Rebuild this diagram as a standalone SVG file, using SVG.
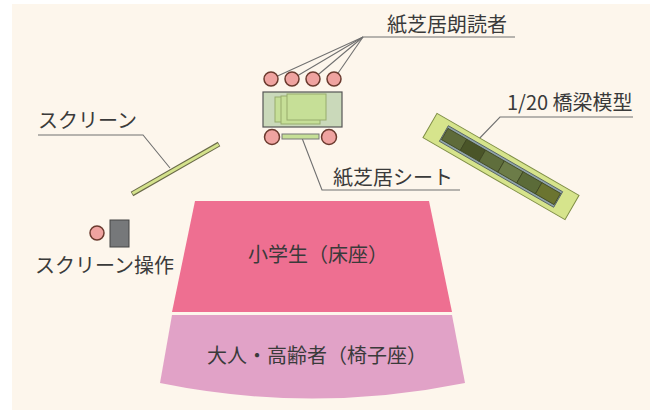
<svg xmlns="http://www.w3.org/2000/svg" width="650" height="410" viewBox="0 0 650 410">
<defs>
<style>
.bg{fill:#FDF6EC}
.lbl{font-family:"Noto Sans CJK JP","Noto Sans",sans-serif;font-size:20px;fill:#3a3a3a}
.lead{fill:none;stroke:#707070;stroke-width:1.1}
.person{fill:#EFA3A0;stroke:#6B3A2E;stroke-width:1.5}
.paper{fill:#C6DF97;stroke:#97AC6C;stroke-width:1}
.tile{stroke:#3E4622;stroke-width:0.8}
</style>
</defs>
<rect x="0" y="0" width="650" height="410" fill="#ffffff"/>
<rect class="bg" x="12" y="4" width="638" height="406"/>

<g id="connectors">
  <polyline class="lead" points="515,37 363,37 271,79"/>
  <line class="lead" x1="363" y1="37" x2="292" y2="79"/>
  <line class="lead" x1="363" y1="37" x2="313" y2="79"/>
  <line class="lead" x1="363" y1="37" x2="334" y2="79"/>
  <polyline class="lead" points="302,138 322,190 460,190"/>
  <polyline class="lead" points="633,117 500,117 475,143"/>
  <polyline class="lead" points="38,135 143,135 170,168"/>
</g>

<g id="seating-floor">
  <polygon points="195,201 429,201 452,312 172,312" fill="#EE6F91"/>
  <text class="lbl" x="248" y="262">小学生（床座）</text>
</g>
<g id="seating-chairs">
  <path d="M172,315 L452,315 L465,383 Q312,414 160,383 Z" fill="#E1A2C7"/>
  <text class="lbl" x="207" y="363">大人・高齢者（椅子座）</text>
</g>

<g id="readers">
  <circle class="person" cx="271" cy="79" r="7"/>
  <circle class="person" cx="292" cy="79" r="7"/>
  <circle class="person" cx="313" cy="79" r="7"/>
  <circle class="person" cx="334" cy="79" r="7"/>
  <text class="lbl" x="387" y="32">紙芝居朗読者</text>
</g>

<g id="table">
  <rect x="263" y="92" width="79" height="35" fill="#CAD9BA" stroke="#555" stroke-width="1.2"/>
  <rect class="paper" x="275" y="97" width="41" height="25"/>
  <rect class="paper" x="281" y="96" width="39" height="28"/>
  <rect class="paper" x="287" y="94" width="39" height="26"/>
</g>

<g id="sheet">
  <rect x="282" y="134" width="37" height="5" fill="#C6DF97" stroke="#777" stroke-width="1"/>
  <circle class="person" cx="272" cy="137" r="7.5"/>
  <circle class="person" cx="329" cy="137" r="7.5"/>
  <text class="lbl" x="333" y="185">紙芝居シート</text>
</g>

<g id="bridge" >
  <g transform="translate(501,166.5) rotate(30)">
    <rect x="-82" y="-14" width="164" height="28" fill="#D6E48C" stroke="#7F8E45" stroke-width="1"/>
    <rect x="-66" y="-9" width="132" height="18" fill="#8FA3AA" stroke="#4E5A5E" stroke-width="0.8"/>
    <rect class="tile" x="-65" y="-6.5" width="21.7" height="13" fill="#5E6B3A"/>
    <rect class="tile" x="-43.3" y="-6.5" width="21.7" height="13" fill="#4A5528"/>
    <rect class="tile" x="-21.6" y="-6.5" width="21.7" height="13" fill="#5F6E3C"/>
    <rect class="tile" x="0.1" y="-6.5" width="21.7" height="13" fill="#6C7C48"/>
    <rect class="tile" x="21.8" y="-6.5" width="21.7" height="13" fill="#5B6B38"/>
    <rect class="tile" x="43.5" y="-6.5" width="21.5" height="13" fill="#6B7430"/>
  </g>
  <text class="lbl" x="507" y="110">1/20 橋梁模型</text>
</g>

<g id="screen">
  <line x1="132" y1="194" x2="219" y2="144" stroke="#6A6A48" stroke-width="5"/>
  <line x1="132.5" y1="193.5" x2="218.5" y2="144.5" stroke="#D4E28C" stroke-width="3"/>
  <text class="lbl" x="38" y="128">スクリーン</text>
</g>

<g id="operator">
  <circle class="person" cx="97" cy="233" r="7"/>
  <rect x="110" y="220" width="19" height="27" fill="#76787A" stroke="#444" stroke-width="1"/>
  <text class="lbl" x="35" y="273">スクリーン操作</text>
</g>
</svg>
